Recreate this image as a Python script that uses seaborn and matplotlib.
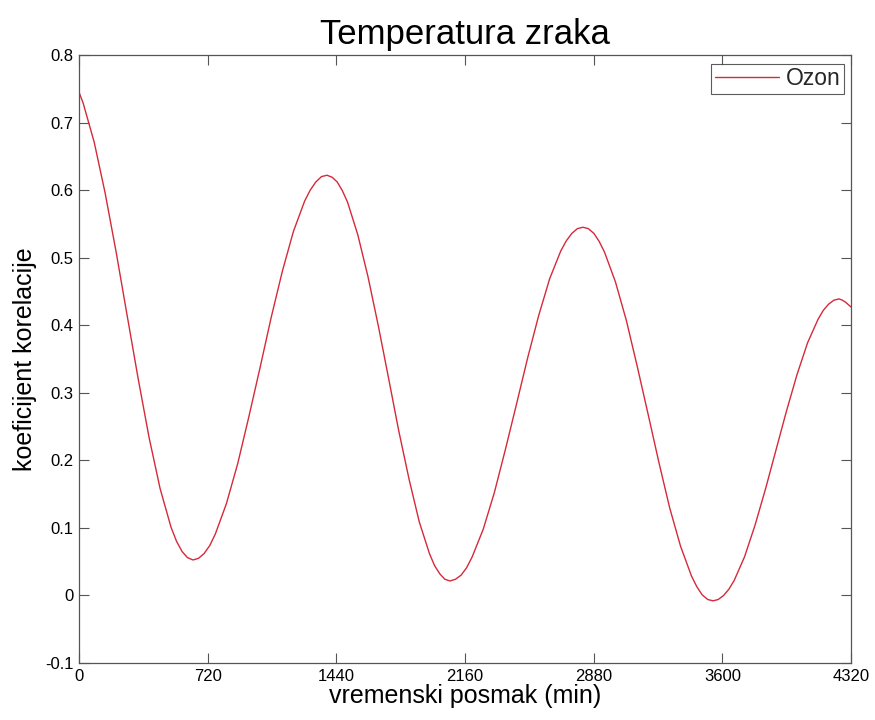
import matplotlib
matplotlib.use("Agg")
import matplotlib.pyplot as plt
import seaborn as sns
import pandas as pd

# lag in minutes and correlation coefficient
lag_min = [0, 23, 85, 146, 208, 269, 331, 392, 454, 515, 546, 577, 607, 638,
           669, 700, 732, 763, 825, 888, 950, 1013, 1075, 1138, 1200, 1263, 1294, 1325, 1357, 1388,
           1417, 1445, 1474, 1503, 1560, 1617, 1675, 1732, 1789, 1847, 1904, 1961, 1990, 2019, 2047, 2076,
           2107, 2138, 2169, 2200, 2262, 2324, 2386, 2448, 2510, 2572, 2634, 2696, 2727, 2758, 2789, 2820,
           2850, 2881, 2911, 2941, 3002, 3063, 3123, 3184, 3245, 3305, 3366, 3427, 3457, 3487, 3518, 3548,
           3577, 3607, 3636, 3666, 3724, 3783, 3842, 3901, 3959, 4018, 4077, 4136, 4165, 4194, 4224, 4253,
           4272, 4290, 4320]
ozon = [0.745, 0.729, 0.671, 0.596, 0.508, 0.415, 0.321, 0.234, 0.158, 0.101, 0.080, 0.065, 0.056, 0.0525,
        0.055, 0.062, 0.074, 0.091, 0.136, 0.195, 0.264, 0.337, 0.411, 0.480, 0.539, 0.584, 0.600, 0.612, 0.620, 0.622,
        0.619, 0.612, 0.599, 0.582, 0.534, 0.472, 0.399, 0.322, 0.244, 0.172, 0.109, 0.062, 0.044, 0.032, 0.024, 0.0214,
        0.024, 0.030, 0.041, 0.057, 0.098, 0.152, 0.216, 0.283, 0.351, 0.414, 0.469, 0.510, 0.525, 0.536, 0.543, 0.545,
        0.543, 0.536, 0.524, 0.508, 0.464, 0.407, 0.340, 0.269, 0.197, 0.130, 0.073, 0.029, 0.013, 0.001, -0.006, -0.008,
        -0.006, 0.000, 0.009, 0.022, 0.057, 0.104, 0.158, 0.216, 0.273, 0.327, 0.374, 0.409, 0.422, 0.431, 0.437, 0.439,
        0.437, 0.434, 0.427]

x_ticks = [0, 720, 1440, 2160, 2880, 3600, 4320]
y_ticks = [-0.1, 0.0, 0.1, 0.2, 0.3, 0.4, 0.5, 0.6, 0.7, 0.8]
y_tick_labels = ["-0.1", "0", "0.1", "0.2", "0.3", "0.4", "0.5", "0.6", "0.7", "0.8"]

title = "Temperatura zraka"
xlabel = "vremenski posmak (min)"
ylabel = "koeficijent korelacije"
series_name = "Ozon"

sns.set_theme(style="white")
plt.rcParams["font.family"] = ["Liberation Sans", "DejaVu Sans"]
plt.rcParams["xtick.direction"] = "in"
plt.rcParams["ytick.direction"] = "in"

df = pd.DataFrame({"lag": lag_min, "r": ozon})

fig = plt.figure(figsize=(8.75, 7.2), dpi=100)
ax = fig.add_axes([79 / 875, 57 / 720, (851 - 79) / 875, (663 - 55) / 720])

sns.lineplot(data=df, x="lag", y="r", ax=ax, color="#d42a3a", linewidth=1.0,
             label=series_name)

ax.set_xlim(0, 4320)
ax.set_ylim(-0.1, 0.8)
ax.set_xticks(x_ticks)
ax.set_xticklabels([str(t) for t in x_ticks])
ax.set_yticks(y_ticks)
ax.set_yticklabels(y_tick_labels)
ax.tick_params(axis="both", which="both", direction="in", length=7, width=0.8,
               color="#555555", labelsize=12, labelcolor="black",
               top=True, right=True, bottom=True, left=True, pad=4)
for s in ax.spines.values():
    s.set_visible(True)
    s.set_color("#555555")
    s.set_linewidth(0.9)

ax.set_title(title, fontsize=25, color="black", pad=8)
ax.set_xlabel(xlabel, fontsize=18, color="black", labelpad=0)
ax.set_ylabel(ylabel, fontsize=18, color="black", labelpad=6)

leg = ax.legend(loc="upper right", bbox_to_anchor=(1 - 7 / 772, 1 - 9 / 608),
                fontsize=16.5, frameon=True, fancybox=False,
                handlelength=2.8, handletextpad=0.3, borderpad=0.15,
                borderaxespad=0.0)
leg.get_frame().set_edgecolor("#333333")
leg.get_frame().set_linewidth(0.8)

fig.savefig("out.png", dpi=100, facecolor="white")
